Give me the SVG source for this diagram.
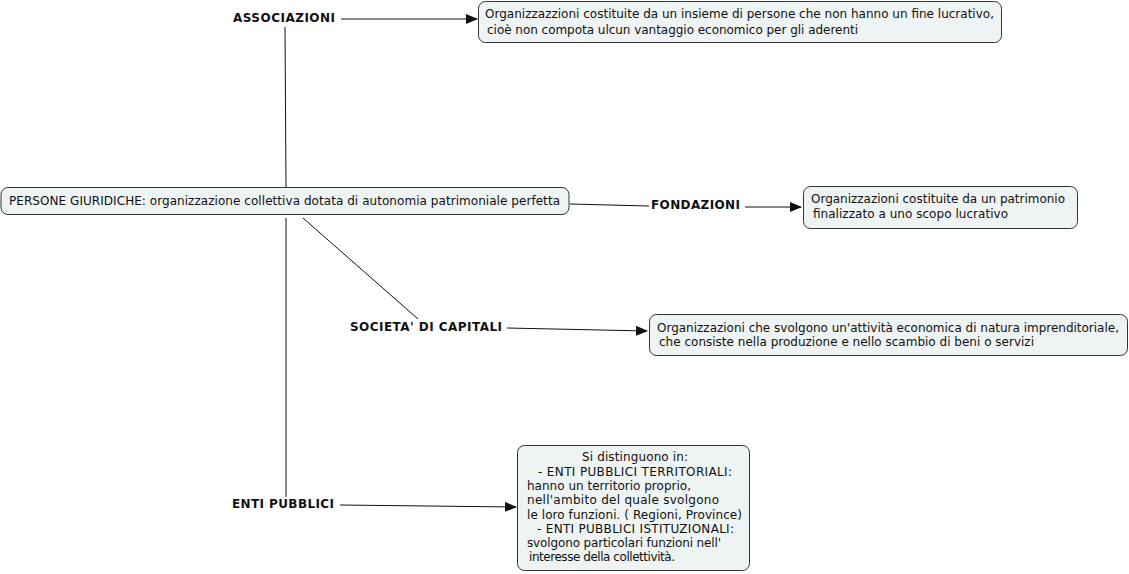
<svg xmlns="http://www.w3.org/2000/svg" width="1129" height="574" viewBox="0 0 1129 574">
<style>
.box{fill:#eef3f4;stroke:#333;stroke-width:1}
.t{font-family:"DejaVu Sans",Verdana,sans-serif;font-size:12px;fill:#111}
.b{font-family:"DejaVu Sans",Verdana,sans-serif;font-size:12px;font-weight:bold;fill:#111}
.c{stroke:#111;stroke-width:1;fill:none}
.a{stroke:#111;stroke-width:1;fill:none;marker-end:url(#ah)}
</style>
<defs>
<marker id="ah" markerWidth="12" markerHeight="10" refX="11" refY="5" orient="auto" markerUnits="userSpaceOnUse">
<path d="M0,0 L12,5 L0,10 Z" fill="#111"/>
</marker>
</defs>
<rect width="1129" height="574" fill="#fff"/>
<g id="connectors">
<line class="c" x1="285" y1="27" x2="286" y2="187"/>
<line class="a" x1="341" y1="19" x2="477" y2="19"/>
<line class="c" x1="570" y1="204" x2="649" y2="206"/>
<line class="a" x1="745" y1="207" x2="801" y2="207"/>
<line class="c" x1="303" y1="218" x2="418" y2="319"/>
<line class="a" x1="507" y1="328" x2="647" y2="331"/>
<line class="c" x1="286" y1="218" x2="286" y2="497"/>
<line class="a" x1="340" y1="505" x2="516" y2="507"/>
</g>
<g id="main">
<rect class="box" x="1" y="187.5" width="568" height="27" rx="7"/>
<text class="t" x="9" y="205" textLength="551">PERSONE GIURIDICHE: organizzazione collettiva dotata di autonomia patrimoniale perfetta</text>
</g>
<g id="associazioni">
<text class="b" x="233" y="22" textLength="102">ASSOCIAZIONI</text>
</g>
<g id="box-associazioni">
<rect class="box" x="478.5" y="1.5" width="523" height="41" rx="7"/>
<text class="t" x="485" y="18" textLength="509">Organizzazzioni costituite da un insieme di persone che non hanno un fine lucrativo,</text>
<text class="t" x="487" y="34" textLength="371">cioè non compota ulcun vantaggio economico per gli aderenti</text>
</g>
<g id="fondazioni">
<text class="b" x="651" y="209" textLength="89">FONDAZIONI</text>
</g>
<g id="box-fondazioni">
<rect class="box" x="803.5" y="186.5" width="274" height="42" rx="7"/>
<text class="t" x="811" y="203" textLength="254">Organizzazioni costituite da un patrimonio</text>
<text class="t" x="813" y="218" textLength="195">finalizzato a uno scopo lucrativo</text>
</g>
<g id="societa">
<text class="b" x="350" y="331" textLength="152">SOCIETA' DI CAPITALI</text>
</g>
<g id="box-societa">
<rect class="box" x="649.5" y="314.5" width="478" height="41" rx="7"/>
<text class="t" x="657" y="332" textLength="462">Organizzazioni che svolgono un'attività economica di natura imprenditoriale,</text>
<text class="t" x="659" y="346" textLength="375">che consiste nella produzione e nello scambio di beni o servizi</text>
</g>
<g id="enti">
<text class="b" x="232" y="508" textLength="102">ENTI PUBBLICI</text>
</g>
<g id="box-enti">
<rect class="box" x="517.5" y="445.5" width="232" height="125" rx="7"/>
<text class="t" x="582" y="461" textLength="106">Si distinguono in:</text>
<text class="t" x="538" y="475.5" textLength="194">- ENTI PUBBLICI TERRITORIALI:</text>
<text class="t" x="527" y="490" textLength="164">hanno un territorio proprio,</text>
<text class="t" x="527" y="504" textLength="192">nell'ambito del quale svolgono</text>
<text class="t" x="527" y="518.5" textLength="215">le loro funzioni. ( Regioni, Province)</text>
<text class="t" x="537" y="533" textLength="197">- ENTI PUBBLICI ISTITUZIONALI:</text>
<text class="t" x="527" y="547" textLength="194">svolgono particolari funzioni nell'</text>
<text class="t" x="529" y="561" textLength="146">interesse della collettività.</text>
</g>
</svg>
